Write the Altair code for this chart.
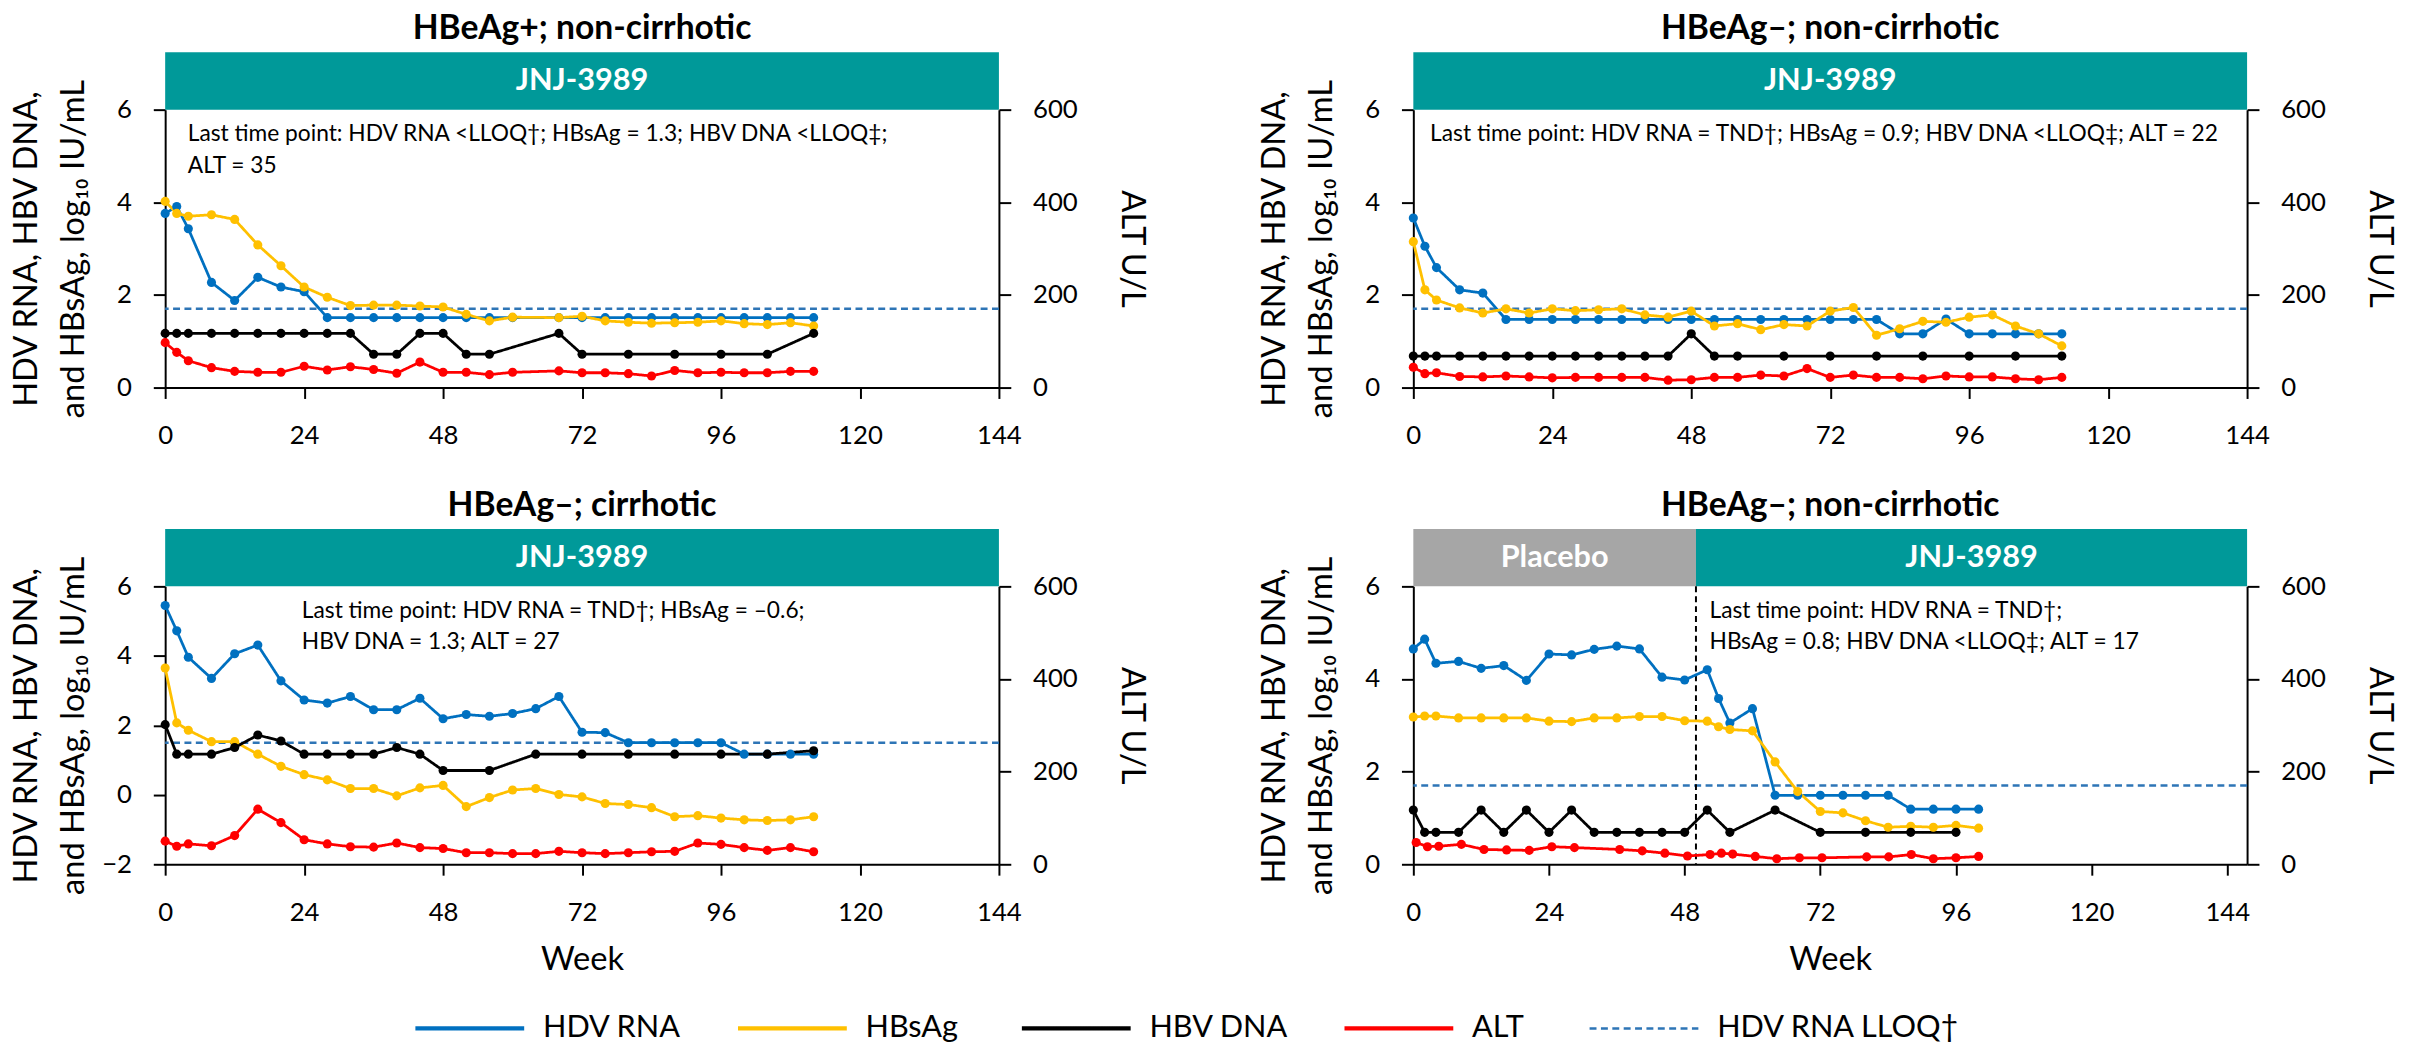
import altair as alt
import pandas as pd

FONT = "Lato"

# ---------------- data ----------------
SERIES = ["HDV RNA", "HBsAg", "HBV DNA", "ALT", "HDV RNA LLOQ†"]
COLORS = ["#0070C0", "#FFC000", "#000000", "#FF0000", "#2E75B6"]
DASHES = [[1, 0], [1, 0], [1, 0], [1, 0], [7, 4.5]]

PANEL_TITLES = ["HBeAg+; non-cirrhotic", "HBeAg–; non-cirrhotic",
                "HBeAg–; cirrhotic", "HBeAg–; non-cirrhotic"]

# Panel 1: HBeAg+; non-cirrhotic
P1_WEEKS = [0, 2, 4, 8, 12, 16, 20, 24, 28, 32, 36, 40, 44, 48, 52, 56, 60,
            68, 72, 76, 80, 84, 88, 92, 96, 100, 104, 108, 112]
P1_HDV_RNA = [3.76, 3.91, 3.43, 2.27, 1.88, 2.38, 2.17, 2.07, 1.51, 1.51, 1.51, 1.51, 1.51, 1.51, 1.51, 1.51, 1.51,
              1.51, 1.51, 1.51, 1.51, 1.51, 1.51, 1.51, 1.51, 1.51, 1.51, 1.51, 1.51]
P1_HBSAG = [4.02, 3.76, 3.70, 3.73, 3.63, 3.08, 2.63, 2.17, 1.95, 1.77, 1.78, 1.78, 1.76, 1.74, 1.58, 1.44, 1.52,
            1.51, 1.54, 1.44, 1.41, 1.39, 1.40, 1.41, 1.44, 1.38, 1.36, 1.40, 1.33]
P1_ALT = [97, 76, 58, 43, 35, 33, 33, 46, 38, 45, 39, 31, 55, 33, 33, 28, 33,
          36, 32, 32, 30, 25, 37, 32, 33, 32, 32, 35, 35]
P1_HBV_WEEKS = [0, 2, 4, 8, 12, 16, 20, 24, 28, 32, 36, 40, 44, 48, 52, 56, 68, 72, 80, 88, 96, 104, 112]
P1_HBV_DNA = [1.17, 1.17, 1.17, 1.17, 1.17, 1.17, 1.17, 1.17, 1.17, 1.17, 0.72, 0.72, 1.17, 1.17, 0.72, 0.72,
              1.17, 0.72, 0.72, 0.72, 0.72, 0.72, 1.17]

# Panel 2: HBeAg-; non-cirrhotic
P2_WEEKS = [0, 2, 4, 8, 12, 16, 20, 24, 28, 32, 36, 40, 44, 48, 52, 56, 60, 64, 68, 72, 76, 80,
            84, 88, 92, 96, 100, 104, 108, 112]
P2_HDV_RNA = [3.66, 3.05, 2.59, 2.11, 2.04, 1.47, 1.47, 1.47, 1.47, 1.47, 1.47, 1.47, 1.47, 1.47, 1.47, 1.47,
              1.47, 1.47, 1.47, 1.47, 1.47, 1.47, 1.16, 1.16, 1.48, 1.16, 1.16, 1.16, 1.16, 1.16]
P2_HBSAG = [3.15, 2.11, 1.89, 1.72, 1.61, 1.70, 1.61, 1.70, 1.66, 1.68, 1.70, 1.57, 1.52, 1.65, 1.33, 1.38,
            1.25, 1.36, 1.33, 1.65, 1.73, 1.13, 1.27, 1.43, 1.41, 1.52, 1.57, 1.33, 1.16, 0.90]
P2_ALT = [44, 30, 32, 24, 23, 25, 23, 21, 22, 22, 22, 22, 16, 17, 22, 22, 27, 25, 41, 22, 27, 22,
          22, 19, 25, 23, 23, 19, 17, 22]
P2_HBV_WEEKS = [0, 2, 4, 8, 12, 16, 20, 24, 28, 32, 36, 40, 44, 48, 52, 56, 64, 72, 80, 88, 96, 104, 112]
P2_HBV_DNA = [0.68, 0.68, 0.68, 0.68, 0.68, 0.68, 0.68, 0.68, 0.68, 0.68, 0.68, 0.68, 0.68, 1.16, 0.68, 0.68,
              0.68, 0.68, 0.68, 0.68, 0.68, 0.68, 0.68]

# Panel 3: HBeAg-; cirrhotic
P3_WEEKS = [0, 2, 4, 8, 12, 16, 20, 24, 28, 32, 36, 40, 44, 48, 52, 56, 60, 64, 68, 72, 76, 80,
            84, 88, 92, 96, 100, 104, 108, 112]
P3_HDV_RNA = [5.45, 4.72, 3.96, 3.35, 4.06, 4.31, 3.28, 2.73, 2.64, 2.83, 2.45, 2.45, 2.78, 2.19, 2.31, 2.26,
              2.34, 2.48, 2.83, 1.80, 1.79, 1.50, 1.50, 1.50, 1.50, 1.50, 1.17, 1.17, 1.17, 1.17]
P3_HBSAG = [3.65, 2.07, 1.86, 1.53, 1.53, 1.17, 0.82, 0.58, 0.43, 0.18, 0.18, -0.03, 0.20, 0.27, -0.34, -0.08,
            0.14, 0.18, 0.01, -0.06, -0.25, -0.28, -0.37, -0.63, -0.60, -0.67, -0.72, -0.74, -0.72, -0.63]
P3_ALT = [50, 39, 44, 40, 62, 119, 90, 53, 44, 38, 37, 46, 36, 34, 25, 25, 23, 23, 28, 25, 23, 25,
          27, 28, 46, 43, 36, 30, 36, 27]
P3_HBV_WEEKS = [0, 2, 4, 8, 12, 16, 20, 24, 28, 32, 36, 40, 44, 48, 56, 64, 72, 80, 88, 96, 104, 112]
P3_HBV_DNA = [2.02, 1.17, 1.17, 1.17, 1.36, 1.72, 1.55, 1.17, 1.17, 1.17, 1.17, 1.36, 1.17, 0.70, 0.70,
              1.17, 1.17, 1.17, 1.17, 1.17, 1.17, 1.27]

# Panel 4: HBeAg-; non-cirrhotic (placebo then JNJ-3989)
P4_WEEKS = [0, 2, 4, 8, 12, 16, 20, 24, 28, 32, 36, 40, 44, 48, 52, 54, 56, 60, 64, 68, 72, 76, 80,
            84, 88, 92, 96, 100]
P4_HDV_RNA = [4.65, 4.86, 4.34, 4.38, 4.23, 4.29, 3.97, 4.54, 4.52, 4.64, 4.71, 4.65, 4.04, 3.98, 4.20, 3.58,
              3.05, 3.36, 1.49, 1.49, 1.49, 1.49, 1.49, 1.49, 1.19, 1.19, 1.19, 1.19]
P4_HBSAG = [3.18, 3.20, 3.20, 3.16, 3.16, 3.16, 3.16, 3.09, 3.08, 3.16, 3.16, 3.19, 3.19, 3.10, 3.09, 2.97,
            2.91, 2.88, 2.21, 1.57, 1.14, 1.11, 0.94, 0.80, 0.82, 0.80, 0.84, 0.78]
P4_ALT_WEEKS = [0.5, 2.5, 4.5, 8.5, 12.5, 16.5, 20.5, 24.5, 28.5, 36.5, 40.5, 44.5, 48.5, 52.5, 54.5, 56.5,
                60.5, 64.3, 68.3, 72.3, 80.2, 84.1, 88.1, 92, 96, 100]
P4_ALT = [47, 38, 39, 43, 32, 31, 30, 38, 36, 32, 29, 24, 18, 21, 24, 22, 17, 12, 14, 14, 16, 16, 21, 12, 14, 17]
P4_HBV_WEEKS = [0, 2, 4, 8, 12, 16, 20, 24, 28, 32, 36, 40, 44, 48, 52, 56, 64, 72, 80, 88, 96]
P4_HBV_DNA = [1.17, 0.69, 0.69, 0.69, 1.17, 0.69, 1.17, 0.69, 1.17, 0.69, 0.69, 0.69, 0.69, 0.69, 1.17, 0.69,
              1.17, 0.69, 0.69, 0.69, 0.69]

LLOQ = [1.7, 1.7, 1.5, 1.7]
X_MAX = [144, 144, 144, 147.5]
Y_MIN = [0, 0, -2, 0]

BAND_LABELS = [["JNJ-3989"], ["JNJ-3989"], ["JNJ-3989"], ["Placebo", "JNJ-3989"]]
BAND_START = [[0], [0], [0], [0, 50]]
BAND_END = [[144], [144], [144], [50, 147.5]]
SWITCH_WEEK = [None, None, None, 50]

NOTES = [
    "Last time point: HDV RNA <LLOQ†; HBsAg = 1.3; HBV DNA <LLOQ‡;\nALT = 35",
    "Last time point: HDV RNA = TND†; HBsAg = 0.9; HBV DNA <LLOQ‡; ALT = 22",
    "Last time point: HDV RNA = TND†; HBsAg = –0.6;\nHBV DNA = 1.3; ALT = 27",
    "Last time point: HDV RNA = TND†;\nHBsAg = 0.8; HBV DNA <LLOQ‡; ALT = 17",
]
NOTE_WEEK = [3.9, 2.9, 23.6, 52.4]

X_TICKS = [0, 24, 48, 72, 96, 120, 144]
ALT_TICKS = [0, 200, 400, 600]
Y_TITLE = ["HDV RNA, HBV DNA,", "and HBsAg, log₁₀ IU/mL"]

PANELS = [
    (P1_WEEKS, P1_HDV_RNA, P1_HBSAG, P1_HBV_WEEKS, P1_HBV_DNA, P1_WEEKS, P1_ALT),
    (P2_WEEKS, P2_HDV_RNA, P2_HBSAG, P2_HBV_WEEKS, P2_HBV_DNA, P2_WEEKS, P2_ALT),
    (P3_WEEKS, P3_HDV_RNA, P3_HBSAG, P3_HBV_WEEKS, P3_HBV_DNA, P3_WEEKS, P3_ALT),
    (P4_WEEKS, P4_HDV_RNA, P4_HBSAG, P4_HBV_WEEKS, P4_HBV_DNA, P4_ALT_WEEKS, P4_ALT),
]

# ---------------- style ----------------
W, H = 843, 281
BAND_H = 58
TEAL = "#009999"
GREY = "#A6A6A6"
PAD_L, PAD_T = 11, 7
PT_SIZE = 85
LW = 2.8

COLOR = alt.Color("series:N", scale=alt.Scale(domain=SERIES, range=COLORS), legend=None)
DASH = alt.StrokeDash("series:N", scale=alt.Scale(domain=SERIES, range=DASHES), legend=None)
SERIES_COLOR = dict(zip(SERIES, COLORS))


def build_panel(i, bottom):
    weeks, hdv, hbsag, hbv_weeks, hbv, alt_weeks, alt_vals = PANELS[i]
    xsc = alt.Scale(domain=[0, X_MAX[i]], nice=False, zero=False)
    x_axis = alt.Axis(values=X_TICKS, title="Week" if bottom else None, labelFlush=False,
                      labelOverlap=False)
    ysc = alt.Scale(domain=[Y_MIN[i], 6], nice=False, zero=False)
    y_axis = alt.Axis(values=list(range(Y_MIN[i], 7, 2)), title=Y_TITLE, titleX=-140, titleY=H / 2,
                      titleAngle=270, titleBaseline="middle", titleAlign="center", titleLineHeight=47)
    X = lambda f: alt.X(f, type="quantitative", scale=xsc, axis=x_axis)
    Y = alt.Y("value:Q", scale=ysc, axis=y_axis)

    bands = pd.DataFrame({"label": BAND_LABELS[i], "start": BAND_START[i], "end": BAND_END[i]})
    band_rect = alt.Chart(bands).mark_rect().encode(
        x=X("start"), x2="end:Q",
        y=alt.value(-BAND_H), y2=alt.value(0),
        fill=alt.condition(alt.datum.label == "Placebo", alt.value(GREY), alt.value(TEAL)),
    )
    band_text = alt.Chart(bands).transform_calculate(mid="(datum.start + datum.end) / 2").mark_text(
        color="white", fontWeight="bold", fontSize=31, baseline="middle"
    ).encode(x=X("mid"), y=alt.value(-BAND_H / 2), text="label:N")

    title = alt.Chart(pd.DataFrame({"t": [PANEL_TITLES[i]]})).mark_text(
        fontWeight="bold", fontSize=34, baseline="middle", color="black"
    ).encode(x=alt.value(W / 2), y=alt.value(-81), text="t:N")

    lloq = alt.Chart(pd.DataFrame({"value": [LLOQ[i]], "series": ["HDV RNA LLOQ†"]})).mark_rule(
        strokeWidth=2.5).encode(y=Y, color=COLOR, strokeDash=DASH)

    series_data = [("HDV RNA", weeks, hdv), ("HBsAg", weeks, hbsag), ("HBV DNA", hbv_weeks, hbv)]
    lines_df = pd.concat([pd.DataFrame({"week": w, "value": v, "series": s}) for s, w, v in series_data],
                         ignore_index=True)
    lines = alt.Chart(lines_df).mark_line(strokeWidth=LW).encode(
        x=X("week"), y=Y, color=COLOR, strokeDash=DASH)
    point_layers = [
        alt.Chart(pd.DataFrame({"week": w, "value": v})).mark_circle(
            size=PT_SIZE, opacity=1, color=SERIES_COLOR[s]).encode(x=X("week"), y=Y)
        for s, w, v in series_data
    ]

    note = alt.Chart(pd.DataFrame({"week": [NOTE_WEEK[i]], "note": [NOTES[i]]})).mark_text(
        align="left", baseline="middle", fontSize=23, lineHeight=31.7, lineBreak="\n", color="black"
    ).encode(x=X("week"), y=alt.value(25), text="note:N")

    left_layers = [band_rect, band_text, title, lloq]
    if SWITCH_WEEK[i] is not None:
        vline = alt.Chart(pd.DataFrame({"week": [SWITCH_WEEK[i]]})).mark_rule(
            color="black", strokeWidth=2, strokeDash=[6, 4]).encode(x=X("week"))
        left_layers.append(vline)
    left_layers += [lines] + point_layers + [note]
    left = alt.layer(*left_layers)

    alt_df = pd.DataFrame({"week": alt_weeks, "alt": alt_vals, "series": "ALT"})
    r_axis = alt.Axis(orient="right", values=ALT_TICKS, title="ALT U/L", titleX=134, titleY=H / 2,
                      titleAngle=90, titleBaseline="middle", titleAlign="center")
    YA = alt.Y("alt:Q", scale=alt.Scale(domain=[0, 600], nice=False), axis=r_axis)
    alt_line = alt.Chart(alt_df).mark_line(strokeWidth=LW).encode(
        x=X("week"), y=YA, color=COLOR, strokeDash=DASH)
    alt_pts = alt.Chart(alt_df).mark_circle(size=PT_SIZE, opacity=1, color=SERIES_COLOR["ALT"]).encode(
        x=X("week"), y=YA)
    right = alt.layer(alt_line, alt_pts)

    return alt.layer(left, right).resolve_scale(y="independent").properties(width=W, height=H)


# ---------------- legend row (swatch + label per series) ----------------
LEG_SWATCH = 110
LEG_GAP = 19
LEG_COLPAD = 60
LEG_CHAR_W = 19.6
LEG_H = 40
LEG_ORIGIN = 160   # where the legend row's origin falls on the page
x0s, x1s, xts = [], [], []
cur = 413 - LEG_ORIGIN
for s in SERIES:
    x0s.append(cur)
    x1s.append(cur + LEG_SWATCH)
    xts.append(cur + LEG_SWATCH + LEG_GAP)
    cur = cur + LEG_SWATCH + LEG_GAP + len(s.rstrip("†")) * LEG_CHAR_W + LEG_COLPAD
leg_df = pd.DataFrame({"series": SERIES, "x0": x0s, "x1": x1s, "xt": xts})

leg_base = alt.Chart(leg_df)
leg_lines = leg_base.mark_rule().encode(
    x=alt.X("x0:Q", scale=None, axis=None), x2="x1:Q",
    y=alt.value(LEG_H / 2),
    color=COLOR, strokeDash=DASH,
    strokeWidth=alt.condition(alt.datum.series == "HDV RNA LLOQ†", alt.value(2.7), alt.value(4.3)),
)
leg_text = leg_base.mark_text(align="left", baseline="middle", fontSize=31, color="black").encode(
    x=alt.X("xt:Q", scale=None, axis=None), y=alt.value(LEG_H / 2), text="series:N")
legend_row = alt.layer(leg_lines, leg_text).properties(width=1800, height=LEG_H)

row1 = alt.hconcat(build_panel(0, False), build_panel(1, False), spacing=113)
row2 = alt.hconcat(build_panel(2, True), build_panel(3, True), spacing=113)
panels = alt.vconcat(row1, row2, spacing=41)

chart = alt.vconcat(panels, legend_row, spacing=33).properties(
    padding={"left": PAD_L, "top": PAD_T, "right": 40, "bottom": 5}
).configure(font=FONT).configure_view(stroke=None).configure_axis(
    grid=False, domainColor="black", domainWidth=2, tickColor="black", tickWidth=2,
    labelFont=FONT, labelFontSize=26, labelColor="black",
    titleFont=FONT, titleFontSize=33, titleFontWeight="normal", titleColor="black",
).configure_axisX(tickSize=11, labelPadding=25, titlePadding=18).configure_axisY(
    tickSize=12, labelPadding=22
)

chart.save("out.html", embed_options={"renderer": "svg", "actions": False})
